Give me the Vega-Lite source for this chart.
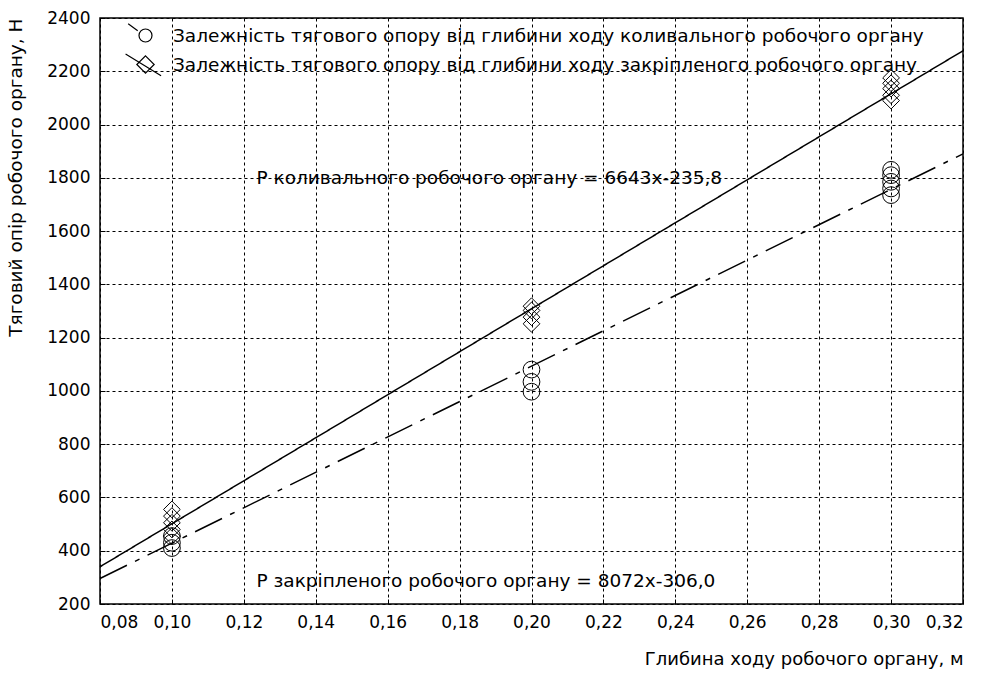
{
  "$schema": "https://vega.github.io/schema/vega-lite/v6.json",
  "width": 863,
  "height": 586,
  "autosize": {"type": "none"},
  "padding": {"left": 100, "top": 18, "right": 21, "bottom": 69},
  "background": "white",
  "datasets": {
    "pts": [
      {"series": "Залежність тягового опору від глибини ходу коливального робочого органу", "x": 0.10, "y": 410},
      {"series": "Залежність тягового опору від глибини ходу коливального робочого органу", "x": 0.10, "y": 430},
      {"series": "Залежність тягового опору від глибини ходу коливального робочого органу", "x": 0.10, "y": 455},
      {"series": "Залежність тягового опору від глибини ходу коливального робочого органу", "x": 0.20, "y": 997},
      {"series": "Залежність тягового опору від глибини ходу коливального робочого органу", "x": 0.20, "y": 1034},
      {"series": "Залежність тягового опору від глибини ходу коливального робочого органу", "x": 0.20, "y": 1080},
      {"series": "Залежність тягового опору від глибини ходу коливального робочого органу", "x": 0.30, "y": 1735},
      {"series": "Залежність тягового опору від глибини ходу коливального робочого органу", "x": 0.30, "y": 1760},
      {"series": "Залежність тягового опору від глибини ходу коливального робочого органу", "x": 0.30, "y": 1785},
      {"series": "Залежність тягового опору від глибини ходу коливального робочого органу", "x": 0.30, "y": 1810},
      {"series": "Залежність тягового опору від глибини ходу коливального робочого органу", "x": 0.30, "y": 1830},
      {"series": "Залежність тягового опору від глибини ходу закріпленого робочого органу", "x": 0.10, "y": 455},
      {"series": "Залежність тягового опору від глибини ходу закріпленого робочого органу", "x": 0.10, "y": 480},
      {"series": "Залежність тягового опору від глибини ходу закріпленого робочого органу", "x": 0.10, "y": 505},
      {"series": "Залежність тягового опору від глибини ходу закріпленого робочого органу", "x": 0.10, "y": 530},
      {"series": "Залежність тягового опору від глибини ходу закріпленого робочого органу", "x": 0.10, "y": 555},
      {"series": "Залежність тягового опору від глибини ходу закріпленого робочого органу", "x": 0.20, "y": 1252},
      {"series": "Залежність тягового опору від глибини ходу закріпленого робочого органу", "x": 0.20, "y": 1277},
      {"series": "Залежність тягового опору від глибини ходу закріпленого робочого органу", "x": 0.20, "y": 1302},
      {"series": "Залежність тягового опору від глибини ходу закріпленого робочого органу", "x": 0.20, "y": 1318},
      {"series": "Залежність тягового опору від глибини ходу закріпленого робочого органу", "x": 0.30, "y": 2090},
      {"series": "Залежність тягового опору від глибини ходу закріпленого робочого органу", "x": 0.30, "y": 2110},
      {"series": "Залежність тягового опору від глибини ходу закріпленого робочого органу", "x": 0.30, "y": 2135},
      {"series": "Залежність тягового опору від глибини ходу закріпленого робочого органу", "x": 0.30, "y": 2155},
      {"series": "Залежність тягового опору від глибини ходу закріпленого робочого органу", "x": 0.30, "y": 2175}
    ],
    "keys": [
      {"series": "Залежність тягового опору від глибини ходу коливального робочого органу", "x": 0, "y": 0},
      {"series": "Залежність тягового опору від глибини ходу закріпленого робочого органу", "x": 0, "y": 0}
    ],
    "fits": [
      {"fit": "kol", "x": 0.08, "y": 295.6},
      {"fit": "kol", "x": 0.32, "y": 1890.0},
      {"fit": "zak", "x": 0.08, "y": 339.8},
      {"fit": "zak", "x": 0.32, "y": 2277.0}
    ],
    "notes": [
      {"label": "P коливального робочого органу = 6643x-235,8", "x": 0.1235, "y": 1800},
      {"label": "P закріпленого робочого органу = 8072x-306,0", "x": 0.1235, "y": 287}
    ]
  },
  "encoding": {
    "x": {
      "field": "x", "type": "quantitative",
      "scale": {"domain": [0.08, 0.32], "nice": false, "zero": false},
      "axis": {
        "title": "Глибина ходу робочого органу, м",
        "values": [0.08, 0.10, 0.12, 0.14, 0.16, 0.18, 0.20, 0.22, 0.24, 0.26, 0.28, 0.30, 0.32],
        "format": ".2f",
        "titleAnchor": "end",
        "titlePadding": 20,
        "labelPadding": 15
      }
    },
    "y": {
      "field": "y", "type": "quantitative",
      "scale": {"domain": [200, 2400], "nice": false, "zero": false},
      "axis": {
        "title": "Тяговий опір робочого органу, Н",
        "values": [200, 400, 600, 800, 1000, 1200, 1400, 1600, 1800, 2000, 2200, 2400],
        "format": "d",
        "titleAnchor": "end",
        "titlePadding": 21,
        "labelPadding": 15,
        "titleFontSize": 18.5
      }
    }
  },
  "layer": [
    {
      "data": {"name": "fits"},
      "mark": {"type": "line", "color": "black", "strokeWidth": 1.5},
      "encoding": {
        "detail": {"field": "fit"},
        "strokeDash": {
          "field": "fit", "type": "nominal",
          "scale": {"domain": ["kol", "zak"], "range": [[30, 9, 5, 9], [1, 0]]},
          "legend": null
        }
      }
    },
    {
      "data": {"name": "keys"},
      "mark": {"type": "point", "filled": false, "color": "black", "strokeWidth": 1.2, "size": 300, "opacity": 1, "clip": true},
      "encoding": {
        "shape": {
          "field": "series", "type": "nominal",
          "scale": {
            "domain": ["Залежність тягового опору від глибини ходу коливального робочого органу", "Залежність тягового опору від глибини ходу закріпленого робочого органу"],
            "range": [
              "M -2.0 -1.35 L -0.9 -0.55 M 0.75 0 A 0.75 0.75 0 1 1 -0.75 0 A 0.75 0.75 0 1 1 0.75 0 Z",
              "M -2.3 -1.2 L 1.8 1.3 M 0 -1 L 1 0 L 0 1 L -1 0 Z"
            ]
          },
          "legend": {
            "title": null,
            "orient": "none",
            "legendX": 36,
            "legendY": 8,
            "padding": 0,
            "rowPadding": 6,
            "labelOffset": 18,
            "labelLimit": 0,
            "labelFontSize": 18.5,
            "labelFont": "DejaVu Sans",
            "labelColor": "black",
            "symbolSize": 300,
            "symbolOpacity": 1,
            "symbolStrokeColor": "black",
            "symbolStrokeWidth": 1.2,
            "symbolFillColor": "transparent"
          }
        }
      }
    },
    {
      "data": {"name": "pts"},
      "mark": {"type": "point", "filled": false, "color": "black", "strokeWidth": 1, "size": 280, "opacity": 1},
      "encoding": {
        "shape": {
          "field": "series", "type": "nominal",
          "scale": {
            "domain": ["Залежність тягового опору від глибини ходу коливального робочого органу", "Залежність тягового опору від глибини ходу закріпленого робочого органу"],
            "range": ["circle", "diamond"]
          },
          "legend": null
        }
      }
    },
    {
      "data": {"name": "notes"},
      "mark": {"type": "text", "align": "left", "baseline": "middle", "fontSize": 18.5, "font": "DejaVu Sans", "color": "black"},
      "encoding": {"text": {"field": "label"}}
    }
  ],
  "resolve": {"scale": {"shape": "independent"}},
  "config": {
    "locale": {"number": {"decimal": ",", "thousands": " ", "grouping": [3], "currency": ["", ""]}},
    "view": {"stroke": "black", "strokeWidth": 1.5},
    "axis": {
      "grid": true,
      "gridColor": "black",
      "gridDash": [3, 3],
      "gridWidth": 1,
      "gridOpacity": 1,
      "domain": false,
      "ticks": true,
      "tickSize": -5,
      "tickColor": "black",
      "labelFont": "DejaVu Sans",
      "labelFontSize": 17,
      "labelColor": "black",
      "titleFont": "DejaVu Sans",
      "titleFontSize": 18,
      "titleFontWeight": "normal",
      "titleColor": "black"
    }
  }
}
